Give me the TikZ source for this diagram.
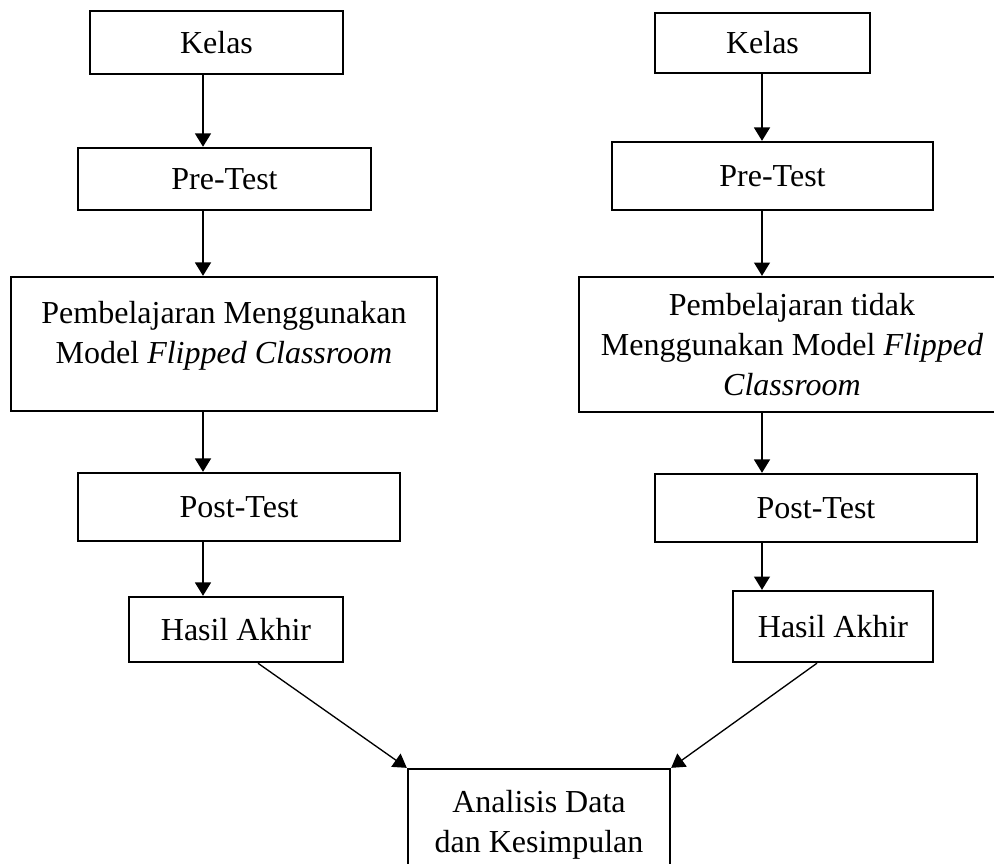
\documentclass[tikz,border=0pt]{standalone}
\usepackage{fontspec}
\setmainfont{Liberation Serif}
\usetikzlibrary{arrows.meta,calc}

\begin{document}
\begin{tikzpicture}[
  x=0.375pt, y=-0.375pt,
  box/.style={rectangle, draw, line width=0.9pt, inner sep=0pt, align=center,
    font=\fontsize{12}{15}\selectfont},
  arrow/.style={-{Triangle[width=6pt,length=5pt]}, line width=0.5pt}
]
\useasboundingbox (0,0) rectangle (994,863);

% Column lines
\coordinate (colL) at (203,0);
\coordinate (colR) at (762,0);

% Left column
\node[box, minimum width=94.9pt, minimum height=23.6pt] (kelasL) at (216.5,42.5) {Kelas};
\node[box, minimum width=109.9pt, minimum height=23.3pt] (preL) at (224.5,179) {Pre-Test};
\node[box, minimum width=159.75pt, minimum height=50.25pt] (pembL) at (224,344) {Pembelajaran Menggunakan\\Model \textit{Flipped Classroom}\\[-6pt]\mbox{}};
\node[box, minimum width=120.75pt, minimum height=25.5pt] (postL) at (239,507) {Post-Test};
\node[box, minimum width=80.25pt, minimum height=24.4pt] (hasilL) at (236,629.5) {Hasil Akhir};

% Right column
\node[box, minimum width=80.6pt, minimum height=22.5pt] (kelasR) at (762.5,43) {Kelas};
\node[box, minimum width=120.4pt, minimum height=25.5pt] (preR) at (772.5,176) {Pre-Test};
\node[box, minimum width=159.75pt, minimum height=50.6pt] (pembR) at (792,344.5) {Pembelajaran tidak\\Menggunakan Model \textit{Flipped}\\\textit{Classroom}};
\node[box, minimum width=120.75pt, minimum height=25.5pt] (postR) at (816,508) {Post-Test};
\node[box, minimum width=75pt, minimum height=26.6pt] (hasilR) at (833,626.5) {Hasil Akhir};

% Result
\node[box, minimum width=98.25pt, minimum height=41.6pt] (analisis) at (539,824.5) {Analisis Data\\dan Kesimpulan};

% Arrows down the columns
\draw[arrow] (kelasL.south -| colL) -- (preL.north -| colL);
\draw[arrow] (preL.south -| colL) -- (pembL.north -| colL);
\draw[arrow] (pembL.south -| colL) -- (postL.north -| colL);
\draw[arrow] (postL.south -| colL) -- (hasilL.north -| colL);

\draw[arrow] (kelasR.south -| colR) -- (preR.north -| colR);
\draw[arrow] (preR.south -| colR) -- (pembR.north -| colR);
\draw[arrow] (pembR.south -| colR) -- (postR.north -| colR);
\draw[arrow] (postR.south -| colR) -- (hasilR.north -| colR);

% Arrows to the analysis
\draw[arrow] ($(hasilL.south)+(22,0)$) -- (analisis.north west);
\draw[arrow] ($(hasilR.south)+(-16,0)$) -- (analisis.north east);

\end{tikzpicture}
\end{document}
